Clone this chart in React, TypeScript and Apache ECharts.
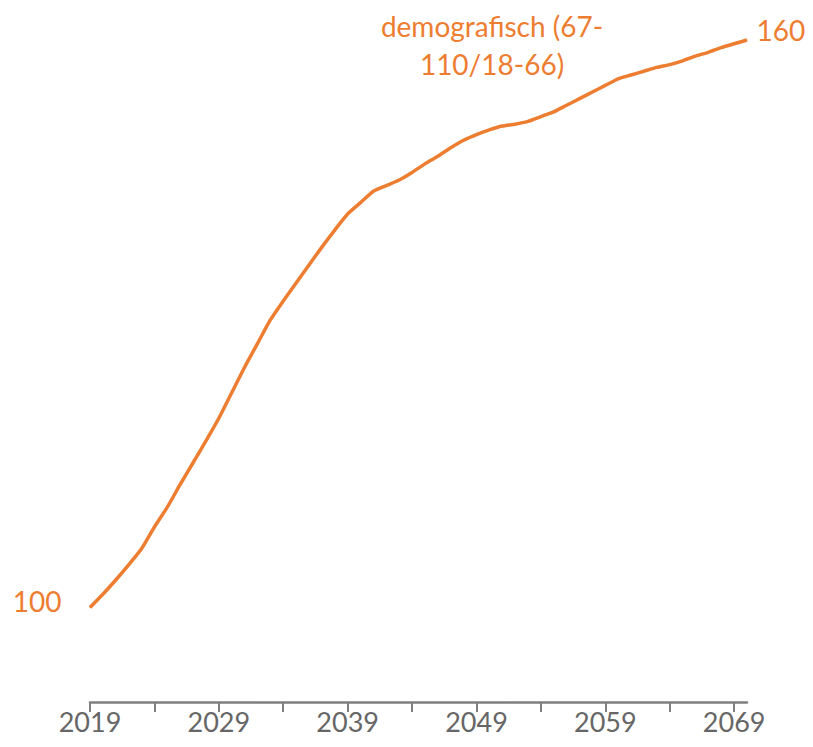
import React, { useEffect, useRef } from "react";
import * as echarts from "echarts";

const years: string[] = [];
for (let y = 2019; y <= 2070; y++) years.push(String(y));

const values: number[] = [
  100.0, 101.4, 102.9, 104.5, 106.2, 108.5, 110.6, 113.0, 115.3, 117.6,
  120.0, 122.7, 125.4, 127.9, 130.4, 132.4, 134.3, 136.2, 138.1, 139.9,
  141.6, 142.8, 144.0, 144.6, 145.2, 146.0, 146.9, 147.7, 148.6, 149.4,
  150.0, 150.5, 150.9, 151.1, 151.4, 151.9, 152.4, 153.1, 153.8, 154.5,
  155.2, 155.9, 156.3, 156.7, 157.1, 157.4, 157.8, 158.3, 158.7, 159.2,
  159.6, 160.0,
];

const seriesName = "demografisch (67-\n110/18-66)";
const startLabel = "100";
const endLabel = "160";

const ORANGE = "#ED7D31";
const FONT = "Lato, 'Open Sans', sans-serif";

export default function App() {
  const ref = useRef<HTMLDivElement>(null);
  useEffect(() => {
    if (!ref.current) return;
    const chart = echarts.init(ref.current, undefined, { renderer: "svg" });
    const last = values.length - 1;
    const data = values.map((v, i) => {
      if (i === 0) {
        return {
          value: v,
          label: {
            show: true,
            position: [-28, -6],
            align: "right",
            verticalAlign: "middle",
            formatter: startLabel,
            color: ORANGE,
            fontSize: 28,
            fontFamily: FONT,
          },
        };
      }
      if (i === last) {
        return {
          value: v,
          label: {
            show: true,
            position: [10, -10],
            align: "left",
            verticalAlign: "middle",
            formatter: endLabel,
            color: ORANGE,
            fontSize: 28,
            fontFamily: FONT,
          },
        };
      }
      return { value: v };
    });
    chart.setOption({
      animation: false,
      backgroundColor: "#ffffff",
      grid: { left: 90, right: 66, top: 40, bottom: 45, containLabel: false },
      xAxis: {
        type: "category",
        data: years,
        boundaryGap: false,
        axisLine: { show: true, lineStyle: { color: "#7f7f7f", width: 2.5 } },
        axisTick: {
          show: true,
          interval: 4,
          length: 10,
          lineStyle: { color: "#7f7f7f", width: 2 },
        },
        axisLabel: {
          interval: 9,
          margin: 6,
          color: "#666666",
          fontSize: 27,
          fontFamily: FONT,
        },
        splitLine: { show: false },
      },
      yAxis: {
        type: "value",
        min: 90,
        max: 160,
        show: false,
        splitLine: { show: false },
      },
      graphic: [
        {
          type: "text",
          x: 492,
          y: 7,
          style: {
            text: seriesName,
            textAlign: "center",
            textVerticalAlign: "top",
            fill: ORANGE,
            fontSize: 28,
            lineHeight: 38,
            fontFamily: FONT,
          },
        },
      ],
      series: [
        {
          type: "line",
          name: seriesName,
          data,
          showSymbol: true,
          showAllSymbol: true,
          symbol: "circle",
          symbolSize: 1,
          smooth: 0.2,
          label: { show: false },
          labelLayout: { hideOverlap: false },
          lineStyle: { color: ORANGE, width: 3.5 },
          itemStyle: { color: ORANGE },
          clip: false,
        },
      ],
    });
    return () => chart.dispose();
  }, []);
  return (
    <div
      ref={ref}
      style={{ position: "absolute", left: 0, top: 0, width: 813, height: 747 }}
    />
  );
}
